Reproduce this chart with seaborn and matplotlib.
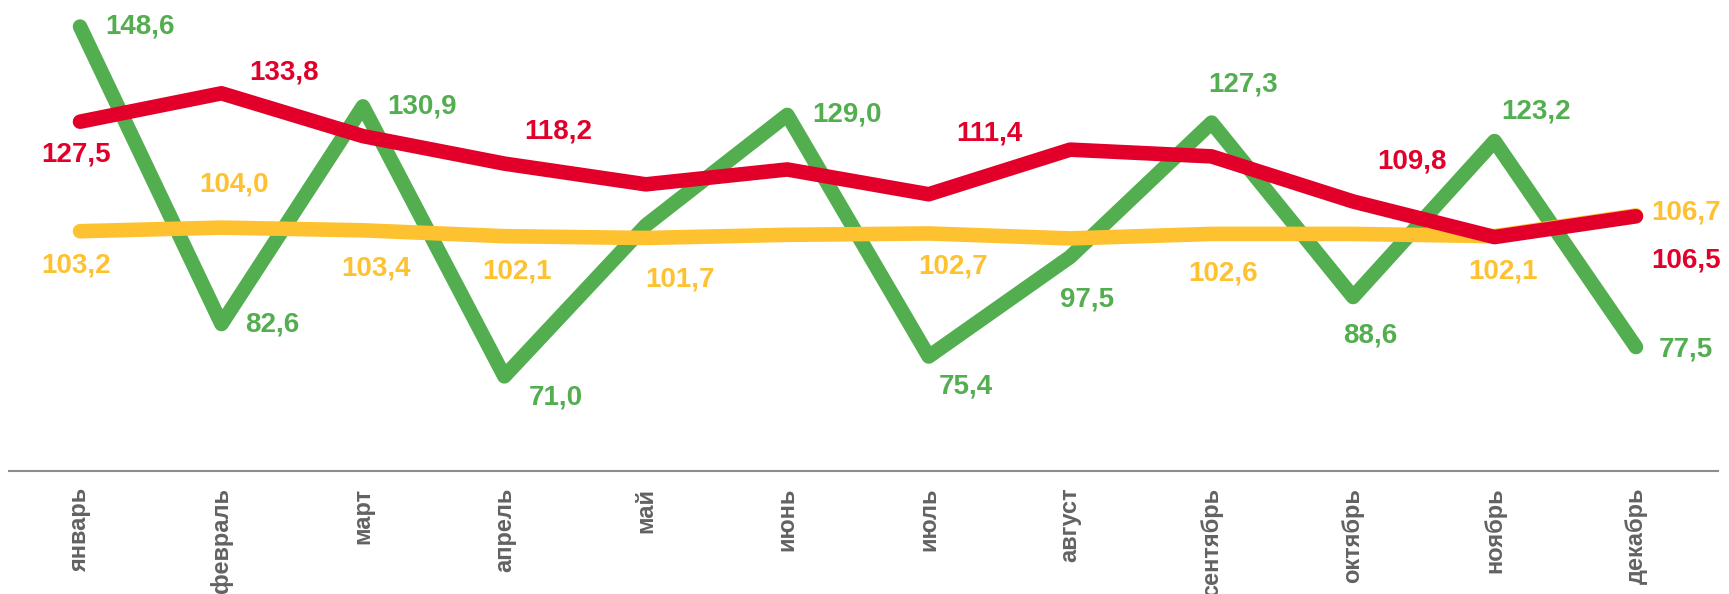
import matplotlib
matplotlib.use("Agg")
import matplotlib.pyplot as plt
import seaborn as sns
import pandas as pd

months = ["январь", "февраль", "март", "апрель", "май", "июнь",
          "июль", "август", "сентябрь", "октябрь", "ноябрь", "декабрь"]

green_vals = [148.6, 82.6, 130.9, 71.0, 104.5, 129.0, 75.4, 97.5, 127.3, 88.6, 123.2, 77.5]
yellow_vals = [103.2, 104.0, 103.4, 102.1, 101.7, 102.4, 102.7, 101.6, 102.6, 102.6, 102.1, 106.7]
red_vals = [127.5, 133.8, 124.3, 118.2, 113.6, 116.9, 111.4, 121.3, 119.8, 109.8, 101.9, 106.5]

# which points carry a value label
green_shown = [True] * 4 + [False] + [True] * 7
yellow_shown = [True, True, True, True, True, False, True, False, True, False, True, True]
red_shown = [True, True, False, True, False, False, True, False, False, True, False, True]

colors = {"green": "#52AE4F", "yellow": "#FEC12F", "red": "#E2002B"}

# label offsets in pixels (dx, dy up)
green_off = [(60, 0), (51, 0), (59, 0), (51, -21), (0, 0), (60, 0),
             (37, -30), (17, -43), (31, 38), (17, -38), (42, 30), (50, -2)]
yellow_off = [(-4, -34), (13, 43), (13, -38), (13, -35), (34, -42), (0, 0),
              (24, -33), (0, 0), (11, -40), (0, 0), (8, -35), (50, 3)]
red_off = [(-4, -33), (63, 21), (0, 0), (54, 32), (0, 0), (0, 0),
           (61, 61), (0, 0), (0, 0), (59, 40), (0, 0), (50, -44)]

df = pd.DataFrame({
    "month": months * 3,
    "value": green_vals + yellow_vals + red_vals,
    "series": ["green"] * 12 + ["yellow"] * 12 + ["red"] * 12,
})

sns.set_style("white")
plt.rcParams["font.family"] = ["Liberation Sans", "DejaVu Sans"]

fig = plt.figure(figsize=(17.29, 5.94), dpi=100)
ax = fig.add_axes((9.3 / 1729, 0.2071, 1708.7 / 1729, 0.7929))

sns.lineplot(data=df, x="month", y="value", hue="series",
             hue_order=["green", "yellow", "red"], palette=colors,
             linewidth=10.5, ax=ax, legend=False, sort=False)
for line in ax.lines:
    line.set_solid_capstyle("round")
    line.set_solid_joinstyle("round")

ax.set_xlim(-0.5, 11.58)
ax.set_ylim(50, 154.5)
ax.set_xlabel("")
ax.set_ylabel("")
ax.set_yticks([])
ax.set_xticks(range(12))
ax.set_xticklabels(months, rotation=90, fontsize=17, fontweight="bold",
                   color="#626262", va="top")
ax.tick_params(axis="x", length=0, pad=12)

for side in ["top", "left", "right"]:
    ax.spines[side].set_visible(False)
ax.spines["bottom"].set_color("#8C8C8C")
ax.spines["bottom"].set_linewidth(1.5)


def put_labels(vals, shown, offs, color):
    for i, (v, s, o) in enumerate(zip(vals, shown, offs)):
        if not s:
            continue
        ax.annotate(f"{v:.1f}".replace(".", ","), (i, v), xytext=o,
                    textcoords="offset pixels", ha="center", va="center",
                    fontsize=20, fontweight="bold", color=color,
                    annotation_clip=False)


put_labels(green_vals, green_shown, green_off, colors["green"])
put_labels(yellow_vals, yellow_shown, yellow_off, colors["yellow"])
put_labels(red_vals, red_shown, red_off, colors["red"])

fig.savefig("out.png", dpi=100)
